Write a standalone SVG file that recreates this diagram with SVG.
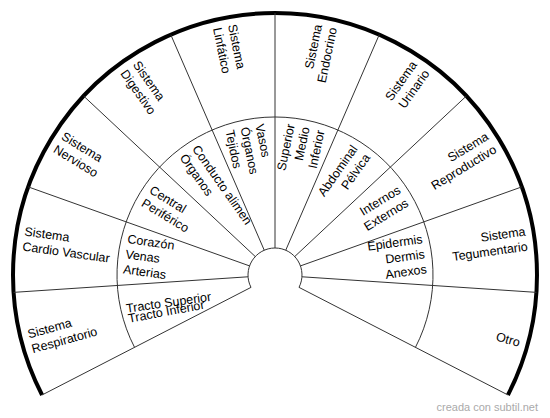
<svg xmlns="http://www.w3.org/2000/svg" width="550" height="418" viewBox="0 0 550 418">
<style>
.t{font-family:"Liberation Sans",Arial,Helvetica,sans-serif;font-size:12.5px;fill:#000}
.e{text-anchor:end}
.ln{stroke:#333;stroke-width:1;fill:none}
.out{stroke:#000;stroke-width:4;fill:none}
.wm{font-family:"Liberation Sans",Arial,sans-serif;font-size:11px;fill:#aaa;text-anchor:end}
</style>
<rect width="550" height="418" fill="#fff"/>
<g id="frame">
<path class="out" d="M42.08 394.96 A262 262 0 1 1 507.92 394.96"/>
<path class="ln" d="M134.54 347.34 A158 158 0 1 1 415.46 347.34"/>
<path class="ln" d="M251 287.36 A27 27 0 1 1 299 287.36"/>
<path class="ln" d="M251 287.36 L42.08 394.96 M248.06 276.79 L13.58 292.36 M249.57 265.92 L28.26 186.9 M255.28 256.56 L83.65 96.04 M264.26 250.23 L170.74 34.64 M275 248 L275 13 M285.74 250.23 L379.26 34.64 M294.72 256.56 L466.35 96.04 M300.43 265.92 L521.74 186.9 M301.94 276.79 L536.42 292.36 M299 287.36 L507.92 394.96"/>
</g>
<g id="respiratorio">
<g transform="translate(275 275) rotate(-15.525)">
<text class="t" x="-254" y="-4.6">Sistema</text>
<text class="t" x="-254" y="10.6">Respiratorio</text>
</g>
<text class="t" transform="translate(126.7 312.7) rotate(-8)">Tracto Superior</text>
<text class="t" transform="translate(129 322.7) rotate(-10.5)">Tracto Inferior</text>
</g>
<g id="cardiovascular" transform="translate(275 275) rotate(7.925)">
<text class="t" x="-254" y="-4.6">Sistema</text>
<text class="t" x="-254" y="10.6">Cardio Vascular</text>
<text class="t" x="-151" y="-11.2">Corazón</text>
<text class="t" x="-151" y="4">Venas</text>
<text class="t" x="-151" y="19.2">Arterias</text>
</g>
<g id="nervioso" transform="translate(275 275) rotate(31.375)">
<text class="t" x="-254" y="-4.6">Sistema</text>
<text class="t" x="-254" y="10.6">Nervioso</text>
<text class="t" x="-151" y="-4.6">Central</text>
<text class="t" x="-151" y="10.6">Periférico</text>
</g>
<g id="digestivo" transform="translate(275 275) rotate(54.825)">
<text class="t" x="-254" y="-4.6">Sistema</text>
<text class="t" x="-254" y="10.6">Digestivo</text>
<text class="t" x="-151" y="-4.6">Conducto alimen</text>
<text class="t" x="-151" y="10.6">Órganos</text>
</g>
<g id="linfatico" transform="translate(275 275) rotate(78.275)">
<text class="t" x="-254" y="-4.6">Sistema</text>
<text class="t" x="-254" y="10.6">Linfático</text>
<text class="t" x="-151" y="-11.2">Vasos</text>
<text class="t" x="-151" y="4">Órganos</text>
<text class="t" x="-151" y="19.2">Tejidos</text>
</g>
<g id="endocrino" transform="translate(275 275) rotate(-78.275)">
<text class="t e" x="254" y="-4.6">Sistema</text>
<text class="t e" x="254" y="10.6">Endocrino</text>
<text class="t e" x="151" y="-11.2">Superior</text>
<text class="t e" x="151" y="4">Medio</text>
<text class="t e" x="151" y="19.2">Inferior</text>
</g>
<g id="urinario" transform="translate(275 275) rotate(-54.825)">
<text class="t e" x="254" y="-4.6">Sistema</text>
<text class="t e" x="254" y="10.6">Urinario</text>
<text class="t e" x="151" y="-4.6">Abdominal</text>
<text class="t e" x="151" y="10.6">Pélvica</text>
</g>
<g id="reproductivo" transform="translate(275 275) rotate(-31.375)">
<text class="t e" x="254" y="-4.6">Sistema</text>
<text class="t e" x="254" y="10.6">Reproductivo</text>
<text class="t e" x="151" y="-4.6">Internos</text>
<text class="t e" x="151" y="10.6">Externos</text>
</g>
<g id="tegumentario" transform="translate(275 275) rotate(-7.925)">
<text class="t e" x="254" y="-4.6">Sistema</text>
<text class="t e" x="254" y="10.6">Tegumentario</text>
<text class="t e" x="151" y="-11.2">Epidermis</text>
<text class="t e" x="151" y="4">Dermis</text>
<text class="t e" x="151" y="19.2">Anexos</text>
</g>
<g id="otro" transform="translate(275 275) rotate(15.525)">
<text class="t e" x="254" y="4">Otro</text>
</g>
<text class="wm" x="538" y="411">creada con subtil.net</text>
</svg>
